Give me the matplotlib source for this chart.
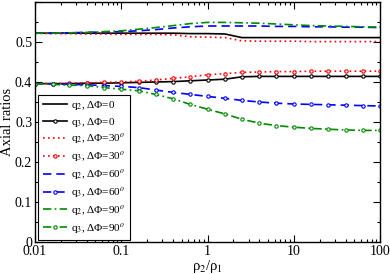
import numpy as np
import matplotlib
matplotlib.use('Agg')
import matplotlib.pyplot as plt
from matplotlib.ticker import MultipleLocator, LogLocator, NullFormatter

plt.rcParams['font.family'] = ['Liberation Serif', 'DejaVu Serif']
plt.rcParams['mathtext.fontset'] = 'stix'

# density ratio rho2/rho1
rho = [0.01, 0.016, 0.025, 0.04, 0.063, 0.1, 0.16, 0.25, 0.4, 0.63, 1,
       1.6, 2.5, 4, 6.3, 10, 16, 25, 40, 63, 100]

# axial ratios for each phase offset
q2_0 = [0.522, 0.522, 0.522, 0.522, 0.522, 0.522, 0.522, 0.522, 0.522, 0.521, 0.521,
        0.520, 0.511, 0.511, 0.511, 0.511, 0.511, 0.511, 0.511, 0.511, 0.511]
q3_0 = [0.396, 0.396, 0.396, 0.397, 0.397, 0.398, 0.399, 0.400, 0.401, 0.403, 0.405,
        0.407, 0.413, 0.414, 0.414, 0.414, 0.414, 0.414, 0.414, 0.414, 0.414]
q2_30 = [0.522, 0.521, 0.521, 0.520, 0.520, 0.519, 0.519, 0.519, 0.518, 0.513, 0.512,
         0.511, 0.503, 0.502, 0.502, 0.502, 0.501, 0.501, 0.501, 0.501, 0.501]
q3_30 = [0.396, 0.396, 0.397, 0.398, 0.399, 0.400, 0.402, 0.405, 0.409, 0.413, 0.418,
         0.421, 0.424, 0.425, 0.426, 0.426, 0.427, 0.427, 0.427, 0.427, 0.427]
q2_60 = [0.522, 0.522, 0.523, 0.524, 0.525, 0.526, 0.528, 0.531, 0.535, 0.538, 0.540,
         0.540, 0.540, 0.540, 0.539, 0.539, 0.538, 0.538, 0.537, 0.537, 0.536]
q3_60 = [0.396, 0.395, 0.394, 0.393, 0.391, 0.389, 0.386, 0.380, 0.374, 0.369, 0.364,
         0.359, 0.354, 0.350, 0.347, 0.345, 0.344, 0.343, 0.342, 0.341, 0.340]
q2_90 = [0.522, 0.522, 0.523, 0.524, 0.526, 0.528, 0.532, 0.536, 0.541, 0.546, 0.549,
         0.549, 0.548, 0.547, 0.545, 0.543, 0.541, 0.540, 0.539, 0.538, 0.537]
q3_90 = [0.396, 0.394, 0.392, 0.391, 0.386, 0.382, 0.378, 0.369, 0.358, 0.344, 0.332,
         0.320, 0.307, 0.297, 0.291, 0.287, 0.284, 0.282, 0.280, 0.279, 0.279]

green = '#008b00'
mk = dict(marker='o', markersize=2.4, markerfacecolor='white', markeredgewidth=0.8)

fig = plt.figure(figsize=(3.9, 2.74), dpi=100)
ax = fig.add_axes([35 / 390, 1 - 242 / 274, 345 / 390, 240 / 274])

ax.plot(rho, q2_0, color='black', lw=1.2, label='q$_2$, ΔΦ=0')
ax.plot(rho, q3_0, color='black', lw=1.2, **mk, label='q$_3$, ΔΦ=0')
ax.plot(rho, q2_30, color='red', lw=1.2, ls=(0, (1, 2)), label='q$_2$, ΔΦ=30$^o$')
ax.plot(rho, q3_30, color='red', lw=1.2, ls=(0, (1, 2)), **mk, label='q$_3$, ΔΦ=30$^o$')
ax.plot(rho, q2_60, color='blue', lw=1.2, ls=(0, (5, 3)), label='q$_2$, ΔΦ=60$^o$')
ax.plot(rho, q3_60, color='blue', lw=1.2, ls=(0, (5, 3)), **mk, label='q$_3$, ΔΦ=60$^o$')
ax.plot(rho, q2_90, color=green, lw=1.2, ls=(0, (5, 2, 1, 2)), label='q$_2$, ΔΦ=90$^o$')
ax.plot(rho, q3_90, color=green, lw=1.2, ls=(0, (5, 2, 1, 2)), **mk, label='q$_3$, ΔΦ=90$^o$')

ax.set_xscale('log')
ax.set_xlim(0.01, 100)
ax.set_ylim(0, 0.6)
ax.set_xticks([0.01, 0.1, 1, 10, 100])
ax.set_xticklabels(['0.01', '0.1', '1', '10', '100'])
ax.xaxis.set_minor_locator(LogLocator(base=10, subs=np.arange(2, 10)))
ax.xaxis.set_minor_formatter(NullFormatter())
ax.set_yticks([0, 0.1, 0.2, 0.3, 0.4, 0.5, 0.6])
ax.set_yticklabels(['0', '0.1', '0.2', '0.3', '0.4', '0.5', ''])
ax.yaxis.set_minor_locator(MultipleLocator(0.05))
ax.tick_params(which='both', direction='in', top=True, right=True, labelsize=10, pad=2)
ax.tick_params(which='major', length=5, width=0.8)
ax.tick_params(which='minor', length=2.5, width=0.8)
for s in ax.spines.values():
    s.set_linewidth(1.0)

ax.set_xlabel('ρ$_2$/ρ$_1$', fontsize=10.5, labelpad=0)
ax.set_ylabel('Axial ratios', fontsize=10.5, labelpad=1)

leg = ax.legend(loc='lower left', bbox_to_anchor=(0.009, 0.008), borderaxespad=0,
                fontsize=8, fancybox=False, edgecolor='black', framealpha=1,
                handlelength=2.2, labelspacing=0.3, handletextpad=0.4, borderpad=0.4)
leg.get_frame().set_linewidth(0.8)

fig.savefig('out.png', dpi=100)
